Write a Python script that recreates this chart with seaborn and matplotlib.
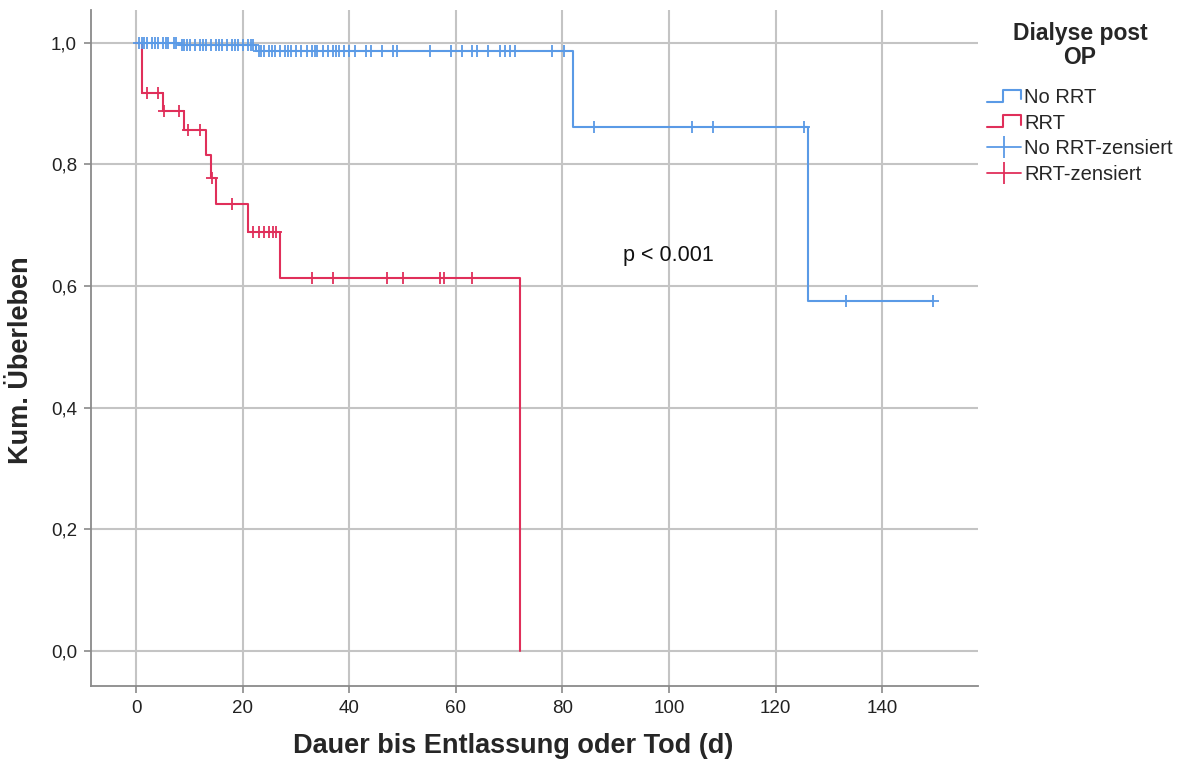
import numpy as np
import pandas as pd
import matplotlib
matplotlib.use("Agg")
import matplotlib.pyplot as plt
import seaborn as sns
from matplotlib.lines import Line2D
from matplotlib.legend_handler import HandlerLine2D

# ---- data ----
group_names = ["No RRT", "RRT"]

norrt_step_times = [0, 8, 22.5, 82, 126, 149.6]
norrt_step_surv = [1.0, 0.997, 0.986, 0.862, 0.575, 0.575]
norrt_censor_times = [0.5, 1, 1.5, 2, 3, 3.5, 4, 5, 5.5, 6, 7, 7.5, 8.5, 9, 9.5, 10, 11, 12,
                      12.5, 13, 14, 15, 15.5, 16, 17, 18, 18.5, 19, 20, 21, 21.5, 22,
                      23, 23.5, 24, 25, 25.5, 26, 27, 28, 28.5, 29, 30, 31, 32, 33, 33.5,
                      34, 35, 36, 37, 37.5, 38, 39, 40, 41, 43.2, 44, 46.2, 48.1, 49,
                      55.1, 59.1, 61.1, 63, 63.9, 66.1, 68.3, 69.2, 70.1, 71.1, 78.1, 80.2,
                      86, 104.3, 108.3, 125.4, 133.3, 149.6]

rrt_step_times = [0, 1, 5, 9, 13, 14, 15, 21, 27, 72]
rrt_step_surv = [1.0, 0.918, 0.888, 0.856, 0.816, 0.777, 0.735, 0.689, 0.613, 0.0]
rrt_censor_times = [2, 4, 5.2, 8, 9.8, 12, 14.2, 18, 22, 23, 24, 25, 25.7, 26.2,
                    33, 37, 47, 50, 57, 57.8, 63]

x_ticks = [0, 20, 40, 60, 80, 100, 120, 140]
y_ticks = [0.0, 0.2, 0.4, 0.6, 0.8, 1.0]
y_tick_labels = ["0,0", "0,2", "0,4", "0,6", "0,8", "1,0"]

blue = "#5a9ae6"
red = "#e02f5a"
grid_c = "#c4c4c4"

def surv_at(times, surv, t):
    idx = np.searchsorted(np.asarray(times), t, side="right") - 1
    return np.asarray(surv)[idx]

steps = pd.concat([
    pd.DataFrame({"t": norrt_step_times, "s": norrt_step_surv, "g": group_names[0]}),
    pd.DataFrame({"t": rrt_step_times, "s": rrt_step_surv, "g": group_names[1]}),
])
cens = pd.concat([
    pd.DataFrame({"t": norrt_censor_times,
                  "s": surv_at(norrt_step_times, norrt_step_surv, norrt_censor_times),
                  "g": group_names[0]}),
    pd.DataFrame({"t": rrt_censor_times,
                  "s": surv_at(rrt_step_times, rrt_step_surv, rrt_censor_times),
                  "g": group_names[1]}),
])

sns.set_style("white")
plt.rcParams["font.family"] = ["Liberation Sans", "DejaVu Sans"]

fig = plt.figure(figsize=(11.85, 7.65), dpi=100)
ax = fig.add_axes([91 / 1185, 1 - 686 / 765, (978 - 91) / 1185, (686 - 10) / 765])

palette = {group_names[0]: blue, group_names[1]: red}
for g in group_names:
    d = steps[steps.g == g]
    sns.lineplot(data=d, x="t", y="s", ax=ax, color=palette[g], lw=1.5,
                 drawstyle="steps-post", estimator=None, sort=False, legend=False)
    c = cens[cens.g == g]
    sns.scatterplot(data=c, x="t", y="s", ax=ax, color=palette[g], marker="+",
                    s=75, linewidth=1.3, legend=False, zorder=3)

ax.set_xlim(-8.5, 158)
ax.set_ylim(-0.0576, 1.054)
ax.set_xticks(x_ticks)
ax.set_yticks(y_ticks)
ax.set_yticklabels(y_tick_labels)
ax.grid(True, color=grid_c, lw=1.5)
ax.set_axisbelow(True)
for sp in ["top", "right"]:
    ax.spines[sp].set_visible(False)
for sp in ["left", "bottom"]:
    ax.spines[sp].set_color("#8a8a8a")
    ax.spines[sp].set_linewidth(1.3)
ax.tick_params(axis="both", labelsize=13.5, colors="#8a8a8a", labelcolor="#222222",
               length=5, width=1.2, direction="out", bottom=True, left=True, pad=5)

ax.set_xlabel("Dauer bis Entlassung oder Tod (d)", fontsize=19.5, fontweight="bold")
ax.xaxis.set_label_coords((513 - 91) / 887, -0.07)
ax.set_ylabel("Kum. Überleben", fontsize=19.5, fontweight="bold")
ax.yaxis.set_label_coords(-(91 - 34) / 887, (686 - 360) / 676)

ax.text(99.8, 0.651, "p < 0.001", fontsize=15.5, ha="center", va="center", color="#111111")


class StepHandler(HandlerLine2D):
    def create_artists(self, legend, orig_handle, xdescent, ydescent, width, height,
                       fontsize, trans):
        x0 = -xdescent
        y0 = -ydescent
        xs = [x0, x0 + width * 0.45, x0 + width * 0.45, x0 + width, x0 + width]
        ys = [y0 + height * 0.1, y0 + height * 0.1, y0 + height * 0.95,
              y0 + height * 0.95, y0 + height * 0.3]
        ln = Line2D(xs, ys, color=orig_handle.get_color(), lw=1.5)
        ln.set_transform(trans)
        return [ln]


h_blue = Line2D([], [], color=blue, lw=1.5)
h_red = Line2D([], [], color=red, lw=1.5)
h_bc = Line2D([], [], color=blue, lw=1.3, marker="|", markersize=16, markeredgewidth=1.3)
h_rc = Line2D([], [], color=red, lw=1.3, marker="|", markersize=16, markeredgewidth=1.3)

leg = fig.legend([h_blue, h_red, h_bc, h_rc],
                 ["No RRT", "RRT", "No RRT-zensiert", "RRT-zensiert"],
                 handler_map={h_blue: StepHandler(), h_red: StepHandler()},
                 loc="upper left", bbox_to_anchor=(973 / 1185, 1 - 8 / 765),
                 frameon=False, fontsize=14.5, title="Dialyse post\nOP",
                 title_fontproperties={"weight": "bold", "size": 16.5},
                 handlelength=1.7, handletextpad=0.15, labelspacing=0.32,
                 borderpad=0.2)
leg._legend_box.align = "center"
leg._legend_box.sep = 14
leg.get_title().set_multialignment("center")
leg.get_title().set_linespacing(1.05)

fig.savefig("out.png", dpi=100)
